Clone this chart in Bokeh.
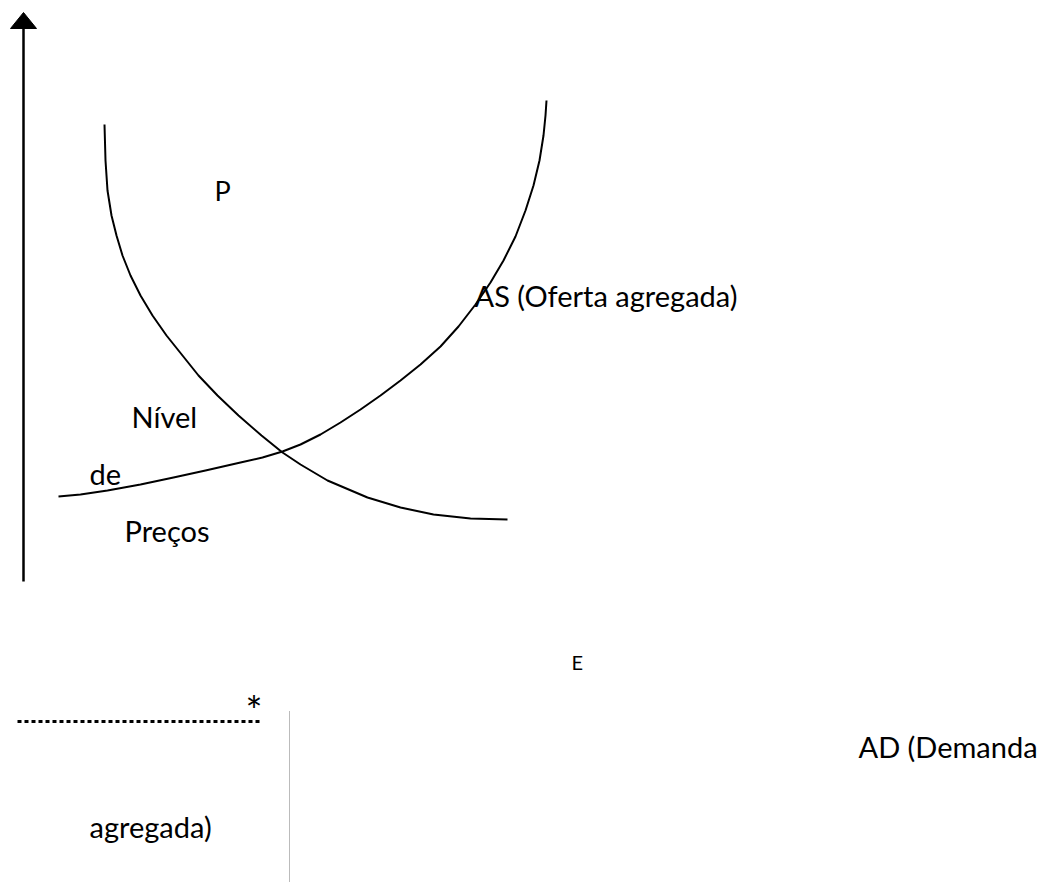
from bokeh.plotting import figure
from bokeh.models import Range1d
from bokeh.core.properties import value
from bokeh.embed import file_html
from bokeh.resources import INLINE

# ---- data (drawing coordinates, y grows downward) ----
ad_x = [104, 105, 107, 111, 116, 122, 130, 140, 152, 166, 182, 198, 217, 238, 261, 282,
        300, 327, 367, 400, 433, 470, 507]
ad_y = [124, 160, 190, 215, 235, 255, 275, 295, 315, 335, 355, 375, 395, 415, 435, 452,
        464, 480, 497, 507, 514, 518, 519]

as_x = [58, 80, 107, 140, 173, 205, 240, 262, 282, 300, 320, 340, 360, 380, 400, 420, 440,
        458, 475, 490, 503, 515, 525, 533, 539, 543, 545, 546]
as_y = [496, 494, 490, 484, 477, 470, 462, 457, 451, 444, 434, 422, 409, 395, 380, 364, 346,
        326, 304, 282, 260, 236, 210, 185, 160, 135, 115, 100]

axis_x = [23, 23]
axis_y = [581, 26]
head_x = [10, 23, 36]
head_y = [28, 12, 28]

ref_h_x = [17, 259]
ref_h_y = [721, 721]
ref_v_x = [289, 289]
ref_v_y = [711, 882]

labels = ["P", "AS (Oferta agregada)", "Nível", "de", "Preços", "E", "*", "AD (Demanda", "agregada)"]
label_x = [214, 474, 131, 89, 124, 571, 245, 858, 89]
label_y = [190, 295, 416, 473, 530, 661, 710, 746, 826]
label_size = ["27px", "29px", "29px", "29px", "29px", "20px", "40px", "29px", "29px"]

p = figure(width=1043, height=882, output_backend="svg", toolbar_location=None,
           x_range=Range1d(0, 1043), y_range=Range1d(882, 0), min_border=0)
p.axis.visible = False
p.grid.visible = False
p.outline_line_color = None
p.background_fill_color = "white"

p.line(axis_x, axis_y, line_color="black", line_width=2.5)
p.patch(head_x, head_y, fill_color="black", line_color="black")

p.line(ad_x, ad_y, line_color="black", line_width=2, line_join="round")
p.line(as_x, as_y, line_color="black", line_width=2, line_join="round")

p.line(ref_h_x, ref_h_y, line_color="black", line_width=3, line_dash="4 3")
p.line(ref_v_x, ref_v_y, line_color="#777777", line_width=1, line_dash="1 1")

for t, x, y, s in zip(labels, label_x, label_y, label_size):
    p.text(x=[x], y=[y], text=[t], text_font=value("Lato"), text_font_size=s,
           text_color="black", text_align="left", text_baseline="alphabetic")

open("out.html", "w").write(file_html(p, INLINE))
